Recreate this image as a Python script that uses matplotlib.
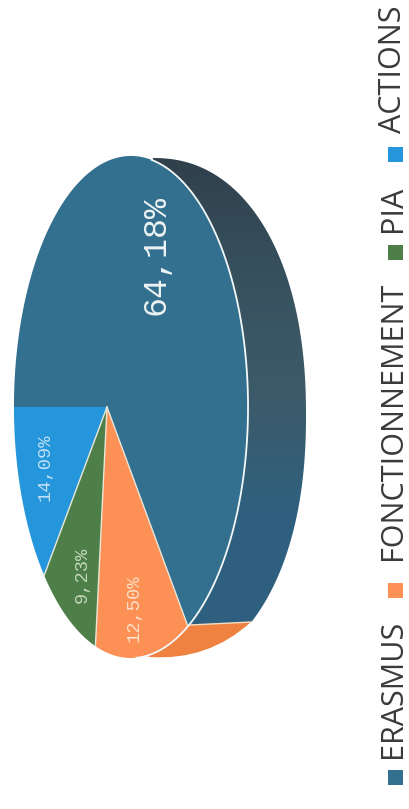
import numpy as np
import matplotlib
matplotlib.use('Agg')
import matplotlib.pyplot as plt
from matplotlib.colors import LinearSegmentedColormap
from matplotlib.patches import Polygon, PathPatch, Rectangle
from matplotlib.path import Path

plt.rcParams['font.family'] = ['Open Sans', 'DejaVu Sans']

categories = ['ACTIONS', 'PIA', 'FONCTIONNEMENT', 'ERASMUS']
shares = [14.09, 9.23, 12.50, 64.18]
share_labels = ['14,09%', '9,23%', '12,50%', '64,18%']
colors = ['#2596dc', '#4e7f48', '#fd9055', '#33708f']
label_colors = ['#bfe0f2', '#c3d8bb', '#fde0c8', '#eef3f4']

# perspective of the scanned pie, in pixels
APEX = (107, 407)
DEPTH = 90.2
TILT = -0.205
HALF = 245.7


def project(frac):
    # frac 0 = left edge of the disc, going round by the bottom
    ang = np.pi + 2 * np.pi * np.asarray(frac)
    u, v = np.cos(ang), np.sin(ang)
    w = 1 + TILT * u
    return APEX[0] + (DEPTH - APEX[0] * TILT) * u / w, APEX[1] - HALF * v / w


fig = plt.figure(figsize=(4.09, 8.09), dpi=100)
ax = fig.add_axes([0, 0, 1, 1])
ax.set_xlim(0, 409)
ax.set_ylim(809, 0)
ax.axis('off')

# side wall, a slightly squarish ellipse behind the disc
t = np.linspace(-np.pi / 2, np.radians(52), 300)
p = 2.2
wall_x = 153 + 153 * np.abs(np.cos(t)) ** (2 / p)
wall_y = 415 + 257 * np.sign(np.sin(t)) * np.abs(np.sin(t)) ** (2 / p)
wall_pts = np.column_stack([np.r_[wall_x, 190, 130], np.r_[wall_y, 625, 400]])
wall = Polygon(wall_pts, closed=True, fc='none', ec='none')
ax.add_patch(wall)
grad = np.linspace(0, 1, 256)[:, None]
cmap = LinearSegmentedColormap.from_list('wall', ['#2f3f4a', '#37505e', '#3d5a68', '#2f607e', '#2f5f80'])
im = ax.imshow(grad, cmap=cmap, extent=[100, 320, 630, 150], aspect='auto', zorder=1)
im.set_clip_path(wall)
ax.set_xlim(0, 409)
ax.set_ylim(809, 0)

orange_wall = Path([(190, 625), (251, 622), (208, 661), (150, 657), (130, 650), (190, 625)],
                   [Path.MOVETO, Path.LINETO, Path.CURVE3, Path.CURVE3, Path.LINETO, Path.CLOSEPOLY])
ax.add_patch(PathPatch(orange_wall, fc='#ef8240', ec='none', zorder=2))
ax.plot([190, 251], [625, 622], color='#f5dcc4', lw=1.0, zorder=2.5)

# top of the pie
edges = np.cumsum([0] + shares) / sum(shares)
for i, name in enumerate(categories):
    fr = np.linspace(edges[i], edges[i + 1], 500)
    x, y = project(fr)
    pts = np.column_stack([np.r_[APEX[0], x], np.r_[APEX[1], y]])
    ax.add_patch(Polygon(pts, closed=True, fc=colors[i], ec='none', zorder=3))

# separators between the slices
for e in edges[1:4]:
    x, y = project(e)
    ax.plot([APEX[0], x], [APEX[1], y], color='#e8e6d8', lw=1.0, zorder=4)

# white rim only on the side that faces the wall
fr = np.linspace(0.29, 0.69, 300)
x, y = project(fr)
ax.plot(x, y, color='#f4f7f8', lw=1.3, zorder=4)

label_pos = [(45, 467), (82, 575), (134, 608), (156, 255)]
label_size = [13.5, 13.5, 13.5, 24]
for lab, pos, size, col in zip(share_labels, label_pos, label_size, label_colors):
    ax.text(pos[0], pos[1], lab, rotation=90, ha='center', va='center', fontsize=size,
            color=col, family=['Liberation Mono'], zorder=5)

# legend along the right side, baseline kept off the edge so nothing gets clipped
legend_text_y = [133, 232, 560, 758]
legend_box_y = [147, 245, 583, 770]
for name, col, ty, by in zip(categories, colors, legend_text_y, legend_box_y):
    ax.add_patch(Rectangle((388, by), 15, 15, fc=col, ec='none', zorder=5))
    ax.text(401, ty, name, rotation=90, rotation_mode='anchor', ha='left', va='baseline',
            fontsize=22, color='#3a3a3a', zorder=5)

fig.savefig('out.png', dpi=100, facecolor='white')
